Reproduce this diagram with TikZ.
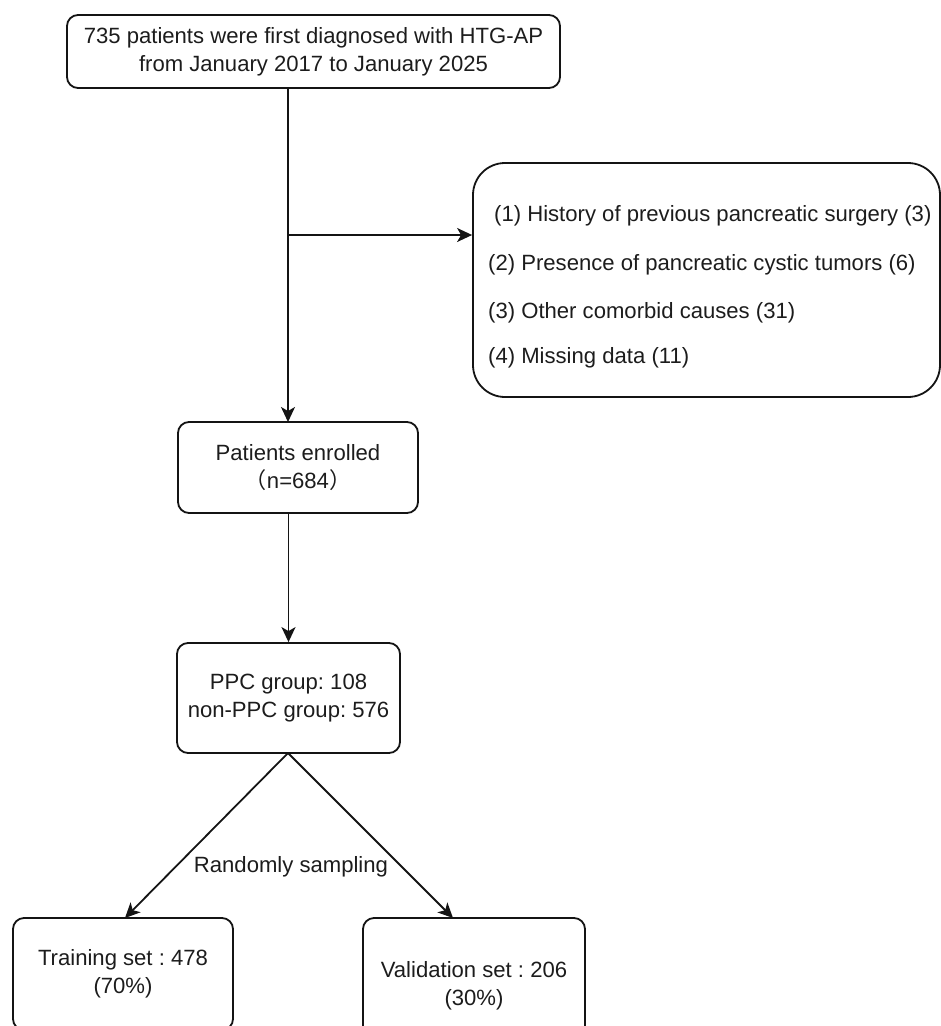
\documentclass[tikz,border=0pt]{standalone}
\usepackage{fontspec}
\setmainfont{Liberation Sans}
\newfontfamily\cjk{Noto Sans CJK SC}
\usetikzlibrary{arrows.meta}
\frenchspacing
\definecolor{ln}{HTML}{141414}
\definecolor{tx}{HTML}{1C1C1C}
\tikzset{
  box/.style={draw=ln, line width=1.8pt, rounded corners=11pt, align=center,
    text=tx, inner sep=0pt, font=\fontsize{22.1}{28}\selectfont},
  conn/.style={draw=ln, line width=1.8pt, -{Stealth[length=15pt,width=14pt,inset=4pt]}},
  item/.style={anchor=west, inner sep=0pt, text=tx, font=\fontsize{22.1}{26}\selectfont},
  lbl/.style={inner sep=0pt, text=tx, font=\fontsize{22.1}{26}\selectfont}
}
\begin{document}
\begin{tikzpicture}[x=1pt,y=-1pt]
\useasboundingbox (0,0) rectangle (941,1026);
\begin{scope}
\clip (0,0) rectangle (941,1026);
\node[box, minimum width=493pt, minimum height=73pt] (top) at (313.5,51.5)
  {735 patients were first diagnosed with HTG-AP\\from January 2017 to January 2025};
\node[box, rounded corners=32pt, minimum width=467pt, minimum height=234pt] (ex) at (706.5,280) {};
\node[item] (e1) at (494,216) {(1) History of previous pancreatic surgery (3)};
\node[item] (e2) at (488,265) {(2) Presence of pancreatic cystic tumors (6)};
\node[item] (e3) at (488,313) {(3) Other comorbid causes (31)};
\node[item] (e4) at (488,358) {(4) Missing data (11)};
\node[box, minimum width=240pt, minimum height=91pt] (enr) at (298,467.5)
  {Patients enrolled\\{\cjk （}n=684{\cjk ）}};
\node[box, minimum width=223pt, minimum height=110pt] (ppc) at (288.5,698)
  {PPC group: 108\\non-PPC group: 576};
\node[box, minimum width=220pt, minimum height=112pt] (train) at (123,974)
  {Training set : 478\\(70\%)};
\node[box, minimum width=222pt, minimum height=136pt] (valid) at (474,986)
  {Validation set : 206\\(30\%)};
\node[lbl] (rs) at (291,867) {Randomly sampling};
\coordinate (s) at (288,88.8);
\coordinate (e) at (288,422);
\coordinate (br) at (288,235);
\coordinate (p0) at (288,753);
\coordinate (t1) at (125,918);
\coordinate (t2) at (453,918);
\draw[conn] (s) -- (e);
\draw[conn] (br) -- (br -| ex.west);
\draw[conn] (enr.south -| ppc.north) -- (ppc.north);
\draw[conn] (p0) -- (t1);
\draw[conn] (p0) -- (t2);
\end{scope}
\end{tikzpicture}
\end{document}
